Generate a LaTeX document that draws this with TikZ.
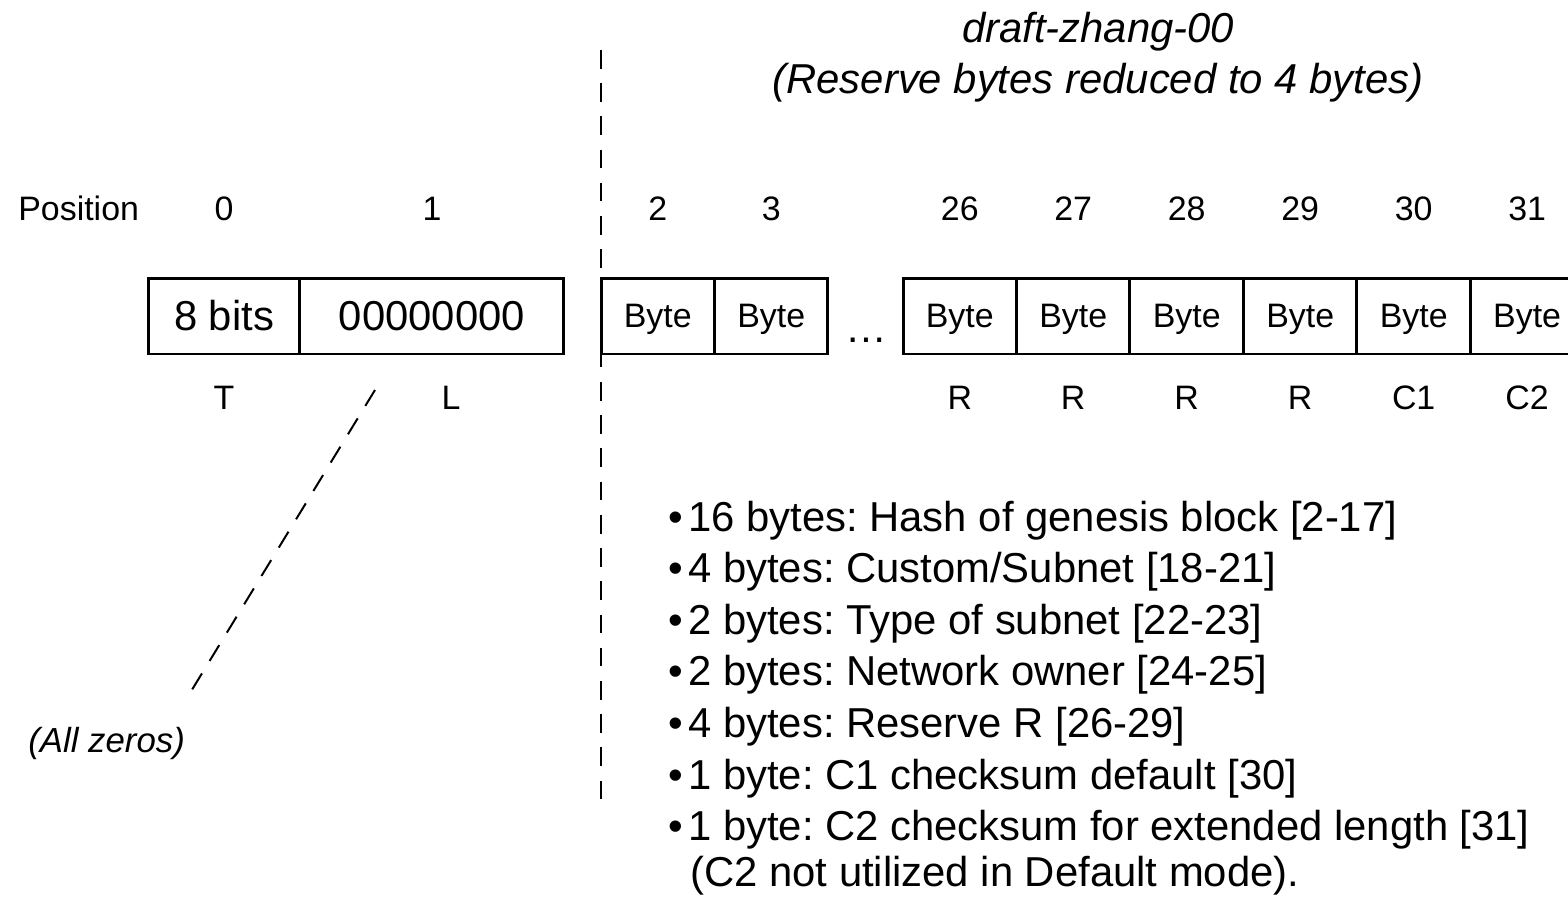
\documentclass[tikz,border=0pt]{standalone}
\usepackage{fontspec}
\setmainfont{Liberation Sans}
\usetikzlibrary{positioning}
\frenchspacing

\begin{document}
\begin{tikzpicture}[x=0.02cm,y=-0.02cm,
    bigtext/.style={inner sep=0pt,font=\fontsize{23.8}{29}\selectfont},
    smalltext/.style={inner sep=0pt,font=\fontsize{19.3}{23}\selectfont},
    title/.style={inner sep=0pt,font=\fontsize{23.8}{29}\selectfont\itshape},
    cell/.style={draw,line width=1.7pt,outer sep=0pt,inner sep=0pt,minimum height=1.52cm},
    bigcell/.style={cell,bigtext,text height=20pt,text depth=4pt},
    bytecell/.style={cell,smalltext,minimum width=2.27cm,text height=17.3pt,text depth=4pt},
    sep/.style={line width=1.13pt,dash pattern=on 10.6pt off 8.3pt}]
    \useasboundingbox (0,0) rectangle (1568,896);
    % title
    \node[title,anchor=base] (draft) at (1098,42) {draft-zhang-00};
    \node[title,anchor=base] (reserve) at (1098,93) {(Reserve bytes reduced to 4 bytes)};
    % separator
    \coordinate (septop) at (601,50);
    \coordinate (sepbot) at (601,808);
    \draw[sep] (septop) -- (sepbot);
    % type and length
    \node[smalltext,anchor=base west] (pos) at (18,220) {Position};
    \node[bigcell,minimum width=3.04cm] (tcell) at (224,316) {8 bits};
    \node[bigcell,minimum width=5.28cm,right=0pt of tcell] (lcell) {00000000};
    \node[smalltext,anchor=base] (n0) at (tcell |- 0,220) {0};
    \node[smalltext,anchor=base] (n1) at (lcell |- 0,220) {1};
    \node[smalltext,anchor=base] (tlabel) at (tcell |- 0,409) {T};
    \node[smalltext,anchor=base] (llabel) at (451,409) {L};
    % bytes
    \node[bytecell] (b2) at (657.75,316) {Byte};
    \node[bytecell,right=0pt of b2] (b3) {Byte};
    \node[bigtext,anchor=base] (dots) at (866,342) {…};
    \node[bytecell] (b26) at (959.75,316) {Byte};
    \foreach \i [remember=\i as \j (initially 26)] in {27,...,31}
        \node[bytecell,right=0pt of b\j] (b\i) {Byte};
    \foreach \i in {2,3,26,27,...,31}
        \node[smalltext,anchor=base] (n\i) at (b\i |- 0,220) {\i};
    \foreach \i in {26,...,29}
        \node[smalltext,anchor=base] (r\i) at (b\i |- 0,409) {R};
    \node[smalltext,anchor=base] (c1) at (b30 |- 0,409) {C1};
    \node[smalltext,anchor=base] (c2) at (b31 |- 0,409) {C2};
    % all zeros
    \node[smalltext,font=\fontsize{19.8}{24}\selectfont\itshape,anchor=base west] (zeros) at (28,752) {(All zeros)};
    \coordinate (ztop) at (375,390);
    \coordinate (zbot) at (190,693);
    \draw[sep] (ztop) -- (zbot);
    % field list
    \foreach \txt [count=\i] in {{16 bytes: Hash of genesis block [2-17]},
        {4 bytes: Custom/Subnet [18-21]},
        {2 bytes: Type of subnet [22-23]},
        {2 bytes: Network owner [24-25]},
        {4 bytes: Reserve R [26-29]},
        {1 byte: C1 checksum default [30]},
        {1 byte: C2 checksum for extended length [31]}}
        \node[bigtext,anchor=base west] (item\i) at (668,{531+51.6*(\i-1)}) {•\kern3pt\txt};
    \node[bigtext,anchor=base west] (note) at (690,886) {(C2 not utilized in Default mode).};
\end{tikzpicture}
\end{document}
